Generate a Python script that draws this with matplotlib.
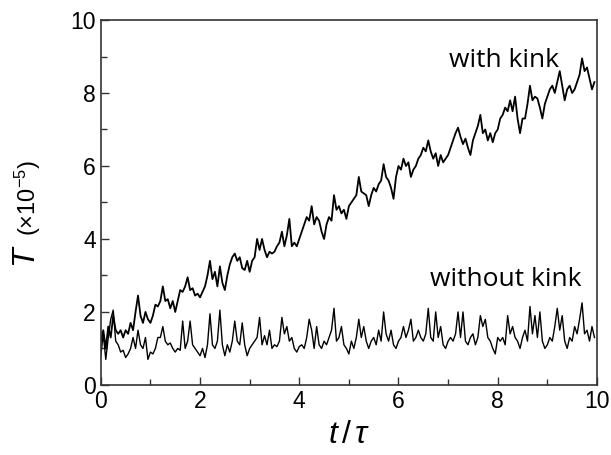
import matplotlib
matplotlib.use("Agg")
import matplotlib.pyplot as plt
import numpy as np
from matplotlib.ticker import MultipleLocator

"""
T vs t/tau for the torsion signal with and without the kink
"""

plt.rcParams['font.family'] = ['Liberation Sans', 'DejaVu Sans']
plt.rcParams['mathtext.fontset'] = 'custom'
plt.rcParams['mathtext.it'] = 'Liberation Sans:italic'
plt.rcParams['mathtext.rm'] = 'Liberation Sans'

t = np.round(np.arange(0, 10, 0.05), 2)

with_kink = [
    1.2, 1.5, 1.0, 1.6, 1.3, 1.9, 1.5, 1.4, 1.5, 1.3,
    1.5, 1.4, 1.7, 1.5, 2.0, 2.45, 1.9, 1.7, 2.0, 1.8,
    1.7, 1.9, 2.2, 2.15, 2.3, 2.7, 2.3, 2.35, 2.1, 2.3,
    2.0, 2.3, 2.6, 2.55, 2.7, 2.95, 2.6, 2.65, 2.45, 2.5,
    2.4, 2.55, 2.7, 3.0, 3.4, 2.9, 3.1, 2.7, 3.25, 2.8,
    2.6, 3.0, 3.3, 3.5, 3.6, 3.4, 3.5, 3.2, 3.15, 3.4,
    3.1, 3.4, 3.5, 4.0, 3.7, 4.0, 3.7, 3.5, 3.65, 3.6,
    3.65, 3.8, 3.9, 4.2, 3.8, 4.1, 4.55, 3.8, 3.9, 3.8,
    4.0, 4.2, 4.4, 4.6, 4.5, 4.9, 4.4, 4.6, 4.5, 4.2,
    4.0, 4.4, 4.6, 4.5, 5.2, 4.8, 4.9, 4.7, 4.8, 4.55,
    4.9, 5.0, 5.1, 5.2, 5.7, 5.3, 5.25, 5.2, 4.9, 5.2,
    5.4, 5.3, 5.5, 5.6, 6.05, 5.7, 5.6, 5.4, 5.1, 5.7,
    6.0, 5.9, 6.2, 6.0, 6.1, 5.7, 5.9, 6.0, 6.2, 6.3,
    6.5, 6.4, 6.7, 6.4, 6.2, 6.35, 6.0, 6.3, 6.1, 6.2,
    6.3, 6.5, 6.7, 6.9, 7.05, 6.8, 6.6, 6.75, 6.5, 6.3,
    6.7, 6.9, 7.1, 7.4, 6.9, 7.0, 6.7, 6.9, 6.65, 6.9,
    7.0, 7.3, 7.4, 7.6, 7.5, 7.8, 7.5, 7.9, 7.3, 6.9,
    7.3, 7.3, 7.7, 8.2, 7.8, 7.9, 7.85, 7.6, 7.3, 7.7,
    7.9, 8.1, 8.2, 8.0, 8.3, 8.6, 8.2, 7.8, 8.1, 8.2,
    8.0, 8.1, 8.3, 8.5, 8.95, 8.6, 8.7, 8.4, 8.1, 8.3,
]

without_kink = [
    0.8, 1.4, 0.7, 1.3, 1.8, 2.05, 1.2, 1.1, 0.9, 0.95,
    0.75, 0.85, 1.0, 1.3, 1.0, 1.5, 1.1, 1.0, 1.3, 0.7,
    0.9, 0.85, 1.0, 1.3, 1.3, 1.6, 1.2, 1.1, 1.15, 1.0,
    0.9, 1.0, 0.95, 1.75, 1.0, 1.2, 1.75, 1.1, 1.0, 0.9,
    0.8, 1.0, 0.75, 1.1, 1.95, 1.1, 1.0, 1.2, 2.05, 1.1,
    0.8, 1.1, 0.9, 1.2, 1.75, 1.2, 1.1, 1.7, 1.1, 0.8,
    1.0, 1.1, 1.2, 1.3, 1.85, 1.1, 1.35, 1.1, 1.5, 1.0,
    1.1, 1.05, 1.2, 1.85, 1.4, 1.6, 1.2, 1.3, 1.0, 0.9,
    1.05, 1.1, 1.0, 1.3, 1.8, 1.5, 1.0, 1.6, 1.1, 1.0,
    1.2, 1.1, 1.3, 1.5, 2.1, 1.2, 1.3, 1.6, 1.1, 1.0,
    0.85, 1.2, 1.0, 1.3, 1.8, 1.3, 1.6, 1.2, 1.0, 1.2,
    1.3, 1.1, 1.5, 1.2, 2.0, 1.4, 1.2, 1.5, 1.1, 1.0,
    1.2, 1.3, 1.6, 1.3, 1.5, 1.8, 1.2, 1.3, 1.5, 1.3,
    1.2, 1.4, 2.1, 1.3, 1.2, 2.0, 1.3, 1.6, 1.1, 1.0,
    1.2, 1.3, 1.2, 1.4, 2.0, 1.3, 2.0, 1.2, 1.1, 1.3,
    1.4, 1.1, 1.3, 1.9, 1.6, 1.8, 1.3, 1.2, 1.0, 0.85,
    1.3, 1.2, 1.3, 1.1, 1.9, 1.4, 1.6, 1.3, 1.2, 1.0,
    1.3, 1.5, 1.2, 2.15, 1.4, 1.9, 1.3, 2.0, 1.2, 1.0,
    1.1, 1.3, 1.2, 1.6, 2.1, 1.5, 1.9, 1.2, 1.0, 1.3,
    1.2, 1.6, 1.4, 1.8, 2.25, 1.4, 1.5, 1.2, 1.6, 1.3,
]


def main():
    fig = plt.figure(figsize=(6.11, 4.55), dpi=100)
    ax = fig.add_axes([0.165, 0.154, 0.812, 0.802])

    ax.plot(t, with_kink, color="black", lw=1.3)
    ax.plot(t, without_kink, color="black", lw=1.0)

    ax.set_xlim(0, 10)
    ax.set_ylim(0, 10)
    ax.xaxis.set_major_locator(MultipleLocator(2))
    ax.xaxis.set_minor_locator(MultipleLocator(1))
    ax.yaxis.set_major_locator(MultipleLocator(2))
    ax.yaxis.set_minor_locator(MultipleLocator(1))
    ax.tick_params(which="both", direction="in", top=False, right=False,
                   labelsize=16.5, width=1.0, color="#333333")
    ax.tick_params(which="major", length=6)
    ax.tick_params(which="minor", length=4)
    for sp in ax.spines.values():
        sp.set_linewidth(1.2)
        sp.set_color("#333333")

    ax.text(8.12, 8.9, "with kink", fontsize=19, family="Open Sans",
            ha="center", va="center")
    ax.text(8.17, 2.88, "without kink", fontsize=19, family="Open Sans",
            ha="center", va="center")

    ax.set_xlabel(r"$t\,/\,\tau$", fontsize=23, labelpad=5)

    # y label: big italic T followed by a smaller unit factor, same baseline
    fig.text(0.058, 0.410, r"$T$", fontsize=23, rotation=90,
             rotation_mode="anchor", ha="left", va="baseline")
    fig.text(0.058, 0.481, r"$\mathregular{(\times 10^{-5})}$", fontsize=17,
             rotation=90, rotation_mode="anchor", ha="left", va="baseline")

    fig.savefig("out.png", dpi=100)


if __name__ == "__main__":
    main()
